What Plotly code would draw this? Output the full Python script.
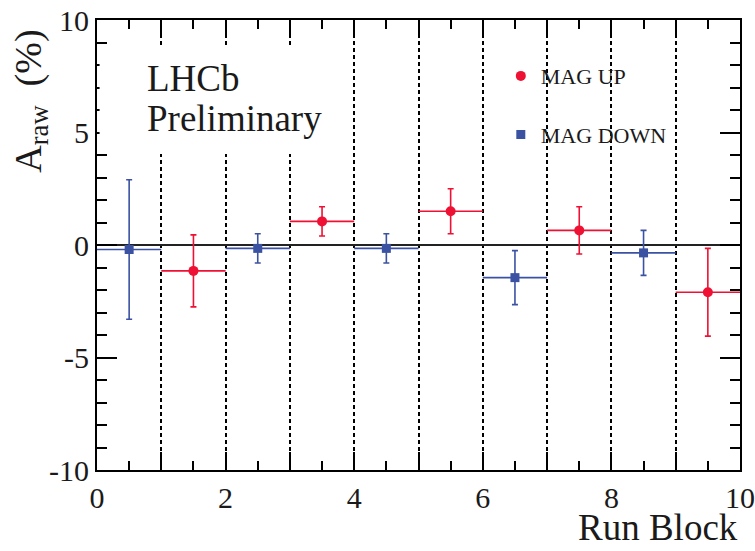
import plotly.graph_objects as go

# ---- data ----
mag_up_x = [1.5, 3.5, 5.5, 7.5, 9.5]
mag_up_y = [-1.15, 1.05, 1.5, 0.65, -2.1]
mag_up_err = [1.6, 0.65, 1.0, 1.05, 1.95]

mag_down_x = [0.5, 2.5, 4.5, 6.5, 8.5]
mag_down_y = [-0.2, -0.15, -0.15, -1.45, -0.35]
mag_down_err = [3.1, 0.65, 0.65, 1.2, 1.0]

bin_half_width = 0.5

x_tick_vals = [0, 1, 2, 3, 4, 5, 6, 7, 8, 9, 10]
x_tick_text = ["0", "", "2", "", "4", "", "6", "", "8", "", "10"]
y_tick_vals = [-10, -5, 0, 5, 10]
y_tick_text = ["-10", "-5", "0", "5", "10"]

RED = "#ee1133"
BLUE = "#3b52a3"
SERIF = "Liberation Serif, Times New Roman, serif"
INK = "#1a1a1a"

fig = go.Figure()

fig.add_trace(go.Scatter(
    x=mag_up_x, y=mag_up_y, mode="markers", name="MAG UP",
    legendgroup="up",
    marker=dict(symbol="circle", size=10, color=RED),
    error_y=dict(type="data", array=mag_up_err, color=RED, thickness=1.6, width=3),
    error_x=dict(type="constant", value=bin_half_width, color=RED, thickness=1.6, width=0),
))
fig.add_trace(go.Scatter(
    x=mag_down_x, y=mag_down_y, mode="markers", name="MAG DOWN",
    legendgroup="down",
    marker=dict(symbol="square", size=9, color=BLUE),
    error_y=dict(type="data", array=mag_down_err, color=BLUE, thickness=1.6, width=3),
    error_x=dict(type="constant", value=bin_half_width, color=BLUE, thickness=1.6, width=0),
))

# white box behind the LHCb label (covers the dashed lines)
fig.add_shape(type="rect", xref="paper", yref="paper",
              x0=0.004, x1=0.385, y0=0.702, y1=0.94,
              fillcolor="white", line=dict(width=0), layer="above")

fig.add_annotation(xref="paper", yref="paper", x=0.074, y=0.871,
                   xanchor="left", yanchor="middle",
                   text="LHCb", showarrow=False,
                   font=dict(family=SERIF, size=37, color=INK))
fig.add_annotation(xref="paper", yref="paper", x=0.074, y=0.782,
                   xanchor="left", yanchor="middle",
                   text="Preliminary", showarrow=False,
                   font=dict(family=SERIF, size=37, color=INK))

fig.add_annotation(xref="paper", yref="paper", x=1.0, y=-0.178,
                   xanchor="right", yanchor="bottom",
                   text="Run Block", showarrow=False,
                   font=dict(family=SERIF, size=37, color=INK))

fig.add_annotation(xref="paper", yref="paper", x=-0.104, y=0.982,
                   xanchor="center", yanchor="top", textangle=-90,
                   text="A<sub>raw</sub>  (%)", showarrow=False,
                   font=dict(family=SERIF, size=38, color=INK))

fig.update_layout(
    width=755, height=551,
    margin=dict(l=97, r=15, t=20, b=81),
    plot_bgcolor="white", paper_bgcolor="white",
    font=dict(family=SERIF, color=INK),
    showlegend=True,
    legend=dict(x=0.628, y=0.922, xanchor="left", yanchor="top",
                bgcolor="rgba(0,0,0,0)", tracegroupgap=27,
                font=dict(family=SERIF, size=22, color=INK)),
)

fig.update_xaxes(
    range=[0, 10], tickvals=x_tick_vals, ticktext=x_tick_text,
    ticks="inside", ticklen=18, tickwidth=1.5, tickcolor="black",
    minor=dict(dtick=0.5, ticks="inside", ticklen=9, tickwidth=1.5, tickcolor="black", showgrid=False),
    showgrid=True, gridcolor="black", gridwidth=1.5, griddash="4px,3px",
    showline=True, linecolor="black", linewidth=2, mirror="allticks",
    zeroline=False, automargin=False,
    tickfont=dict(family=SERIF, size=30, color=INK),
)
fig.update_yaxes(
    range=[-10, 10], tickvals=y_tick_vals, ticktext=y_tick_text,
    ticks="inside", ticklen=20, tickwidth=1.5, tickcolor="black",
    minor=dict(dtick=1, ticks="inside", ticklen=10, tickwidth=1.5, tickcolor="black", showgrid=False),
    showgrid=False,
    showline=True, linecolor="black", linewidth=2, mirror="allticks",
    zeroline=True, zerolinecolor="#222222", zerolinewidth=2,
    automargin=False,
    tickfont=dict(family=SERIF, size=30, color=INK),
)

fig.write_html("out.html")
